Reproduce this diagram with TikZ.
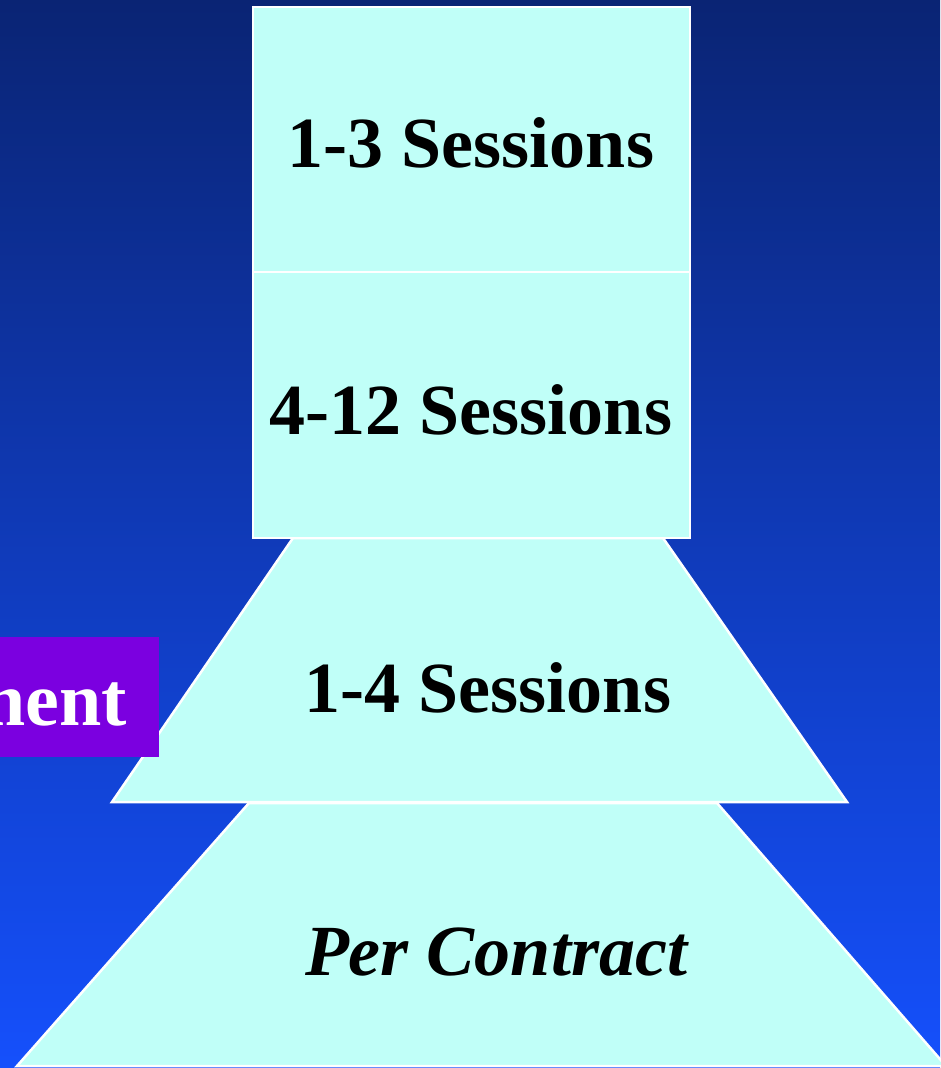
\documentclass[tikz,border=0pt]{standalone}
\usepackage{fontspec}
\setmainfont{Liberation Serif}
\usetikzlibrary{positioning}
\definecolor{skytop}{RGB}{10,36,116}
\definecolor{skybottom}{RGB}{21,80,252}
\definecolor{tierfill}{RGB}{192,255,248}
\definecolor{tagfill}{RGB}{123,0,224}
\tikzset{
  tier/.style   = {draw=white, line width=2.5pt, fill=tierfill},
  label/.style  = {font=\fontsize{72}{80}\selectfont\bfseries, text=black, inner sep=0pt},
  tag/.style    = {fill=tagfill, text=white, inner sep=0pt,
                   font=\fontsize{76}{84}\selectfont\bfseries}
}

\begin{document}
\begin{tikzpicture}[x=1pt,y=-1pt]
\useasboundingbox (0,0) rectangle (940,1068);

% background
\shade[top color=skytop, bottom color=skybottom] (0,0) rectangle (940,1068);

% the tiers, bottom first
\draw[tier] (249,803) -- (717,803) -- (946,1066) -- (17,1066) -- cycle;
\draw[tier] (293,538) -- (663,538) -- (847,802) -- (112,802) -- cycle;
\draw[tier] (253,272) rectangle (690,538);
\draw[tier] (253,7) rectangle (690,272);

% labels of the tiers
\node[label] (t1) at (471,143) {1-3 Sessions};
\node[label] (t2) at (471,410) {4-12 Sessions};
\node[label] (t3) at (488,688) {1-4 Sessions};
\node[label, font=\fontsize{72}{80}\selectfont\bfseries\itshape] (t4) at (496,952) {Per Contract};

% tag on the left, cut by the edge
\fill[tagfill] (-10,637) rectangle (159,757);
\node[tag, anchor=base east] (tag) at (127,725) {ment};
\end{tikzpicture}
\end{document}
